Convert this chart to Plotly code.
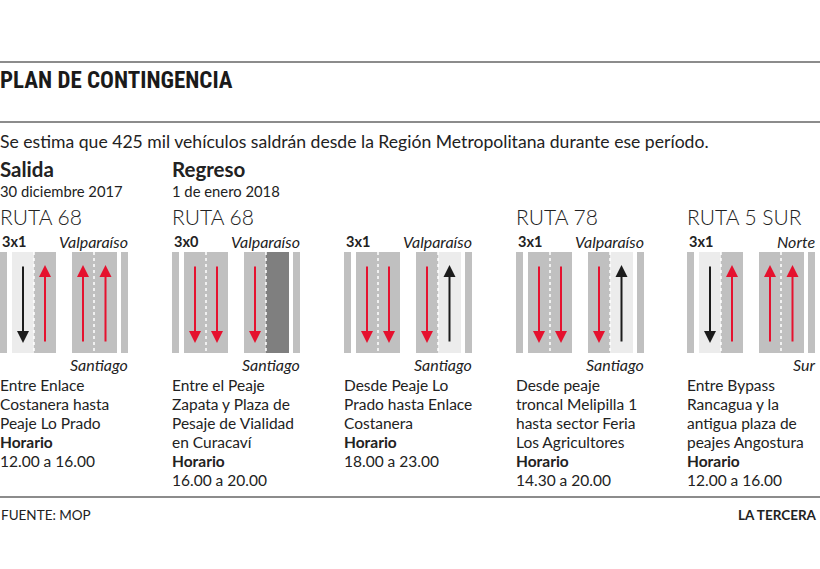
import plotly.graph_objects as go

# ---------------- data ----------------
title = "PLAN DE CONTINGENCIA"
subtitle = "Se estima que 425 mil vehículos saldrán desde la Región Metropolitana durante ese período."
section_heads = ["Salida", "Regreso", "", "", ""]
section_dates = ["30 diciembre 2017", "1 de enero 2018", "", "", ""]
routes = ["RUTA 68", "RUTA 68", "", "RUTA 78", "RUTA 5 SUR"]
modes = ["3x1", "3x0", "3x1", "3x1", "3x1"]
top_labels = ["Valparaíso", "Valparaíso", "Valparaíso", "Valparaíso", "Norte"]
bottom_labels = ["Santiago", "Santiago", "Santiago", "Santiago", "Sur"]
# lane kinds: light = contraflow lane, gray = normal, dark = closed
lane_kinds = [
    ["light", "gray", "gray", "gray"],
    ["gray", "gray", "gray", "dark"],
    ["gray", "gray", "gray", "light"],
    ["gray", "gray", "gray", "light"],
    ["light", "gray", "gray", "gray"],
]
lane_dirs = [
    ["down", "up", "up", "up"],
    ["down", "down", "down", None],
    ["down", "down", "down", "up"],
    ["down", "down", "down", "up"],
    ["down", "up", "up", "up"],
]
descriptions = [
    ["Entre Enlace", "Costanera hasta", "Peaje Lo Prado"],
    ["Entre el Peaje", "Zapata y Plaza de", "Pesaje de Vialidad", "en Curacaví"],
    ["Desde Peaje Lo", "Prado hasta Enlace", "Costanera"],
    ["Desde peaje", "troncal Melipilla 1", "hasta sector Feria", "Los Agricultores"],
    ["Entre Bypass", "Rancagua y la", "antigua plaza de", "peajes Angostura"],
]
hours = ["12.00 a 16.00", "16.00 a 20.00", "18.00 a 23.00", "14.30 a 20.00", "12.00 a 16.00"]
source = "FUENTE: MOP"
brand = "LA TERCERA"

# ---------------- layout constants ----------------
W, H = 820, 569
panel_x = [0, 172, 344, 516, 687]
lane_spans = [(12, 34), (34, 56), (72, 94), (94, 117)]
road_top, road_bot = 252, 353
arrow_top, arrow_bot = 265, 343
lane_colors = {"light": "#ececec", "gray": "#c0c0c0", "dark": "#7f7f7f"}
RED = "#e5112e"
BLACK = "#1c1c1c"
TXT = "#222222"
BODY = "Lato, 'Noto Sans', sans-serif"
COND = "'Liberation Sans Narrow', 'Roboto Condensed', 'Arial Narrow', Lato, sans-serif"

shapes = []
annotations = []


def text(x, y, s, size, xanchor="left", family=BODY, weight=400, color=TXT):
    annotations.append(dict(
        x=max(x, 0), y=y, xref="x", yref="y", text=s, showarrow=False,
        xanchor=xanchor, yanchor="middle", align=xanchor, xshift=min(x, 0),
        font=dict(family=family, size=size, color=color, weight=weight)))


# horizontal rules
for yy in [62, 122, 497]:
    shapes.append(dict(type="line", x0=0, x1=W, y0=yy, y1=yy, xref="x", yref="y",
                       line=dict(color="#8c8c8c", width=2)))

text(-2, 80, title, 23, family=COND, weight=700, color="#1a1a1a")
text(-2, 141, subtitle, 17.6)

for i, x0 in enumerate(panel_x):
    if section_heads[i]:
        text(x0 - 2, 169, section_heads[i], 20.5, weight=700)
    if section_dates[i]:
        text(x0 - 2, 191, section_dates[i], 14.8)
    if routes[i]:
        text(x0 - 2, 216, routes[i], 21, weight=300)
    text(x0, 241, "<b>" + modes[i] + "</b>", 14.5)
    text(x0 + 130, 241, "<i>" + top_labels[i] + "</i>", 16, xanchor="right")
    text(x0 + 130, 364, "<i>" + bottom_labels[i] + "</i>", 16, xanchor="right")

    # shoulders
    for sx0, sx1 in [(0, 7), (121, 128)]:
        shapes.append(dict(type="rect", x0=x0 + sx0, x1=x0 + sx1, y0=road_top, y1=road_bot,
                           xref="x", yref="y", fillcolor=lane_colors["gray"], line=dict(width=0)))
    # lanes
    for (lx0, lx1), kind, d in zip(lane_spans, lane_kinds[i], lane_dirs[i]):
        shapes.append(dict(type="rect", x0=x0 + lx0, x1=x0 + lx1, y0=road_top, y1=road_bot,
                           xref="x", yref="y", fillcolor=lane_colors[kind], line=dict(width=0)))
        if d:
            cx = x0 + (lx0 + lx1) / 2
            head, tail = (arrow_top, arrow_bot) if d == "up" else (arrow_bot, arrow_top)
            annotations.append(dict(
                x=cx, y=head, ax=cx, ay=tail, xref="x", yref="y", axref="x", ayref="y",
                text="", showarrow=True, arrowhead=2, arrowsize=1.2, arrowwidth=2,
                arrowcolor=BLACK if kind == "light" else RED))
    # dashed lane separators
    for bx in [lane_spans[0][1], lane_spans[2][1]]:
        shapes.append(dict(type="line", x0=x0 + bx, x1=x0 + bx, y0=road_top, y1=road_bot,
                           xref="x", yref="y", line=dict(color="white", width=1.5, dash="3px,3px")))

    # description block
    y = 385
    for line in descriptions[i]:
        text(x0 - 2, y, line, 15.5)
        y += 19
    text(x0 - 2, y, "<b>Horario</b>", 15.5)
    y += 19
    text(x0 - 2, y, hours[i], 15.5)

text(-1, 515, source, 13.5)
text(819, 515, "<b>" + brand + "</b>", 13.5, xanchor="right")

fig = go.Figure()
fig.add_trace(go.Scatter(x=[0, W], y=[0, H], mode="markers", marker=dict(opacity=0),
                         hoverinfo="skip", showlegend=False))
fig.update_layout(
    width=W, height=H, margin=dict(l=0, r=0, t=0, b=0),
    paper_bgcolor="white", plot_bgcolor="white",
    xaxis=dict(range=[0, W], visible=False, fixedrange=True),
    yaxis=dict(range=[H, 0], visible=False, fixedrange=True),
    shapes=shapes, annotations=annotations, showlegend=False,
)
fig.write_html("out.html", config={"displayModeBar": False},
               post_script="document.body.style.margin='0';document.body.style.overflow='hidden';")
